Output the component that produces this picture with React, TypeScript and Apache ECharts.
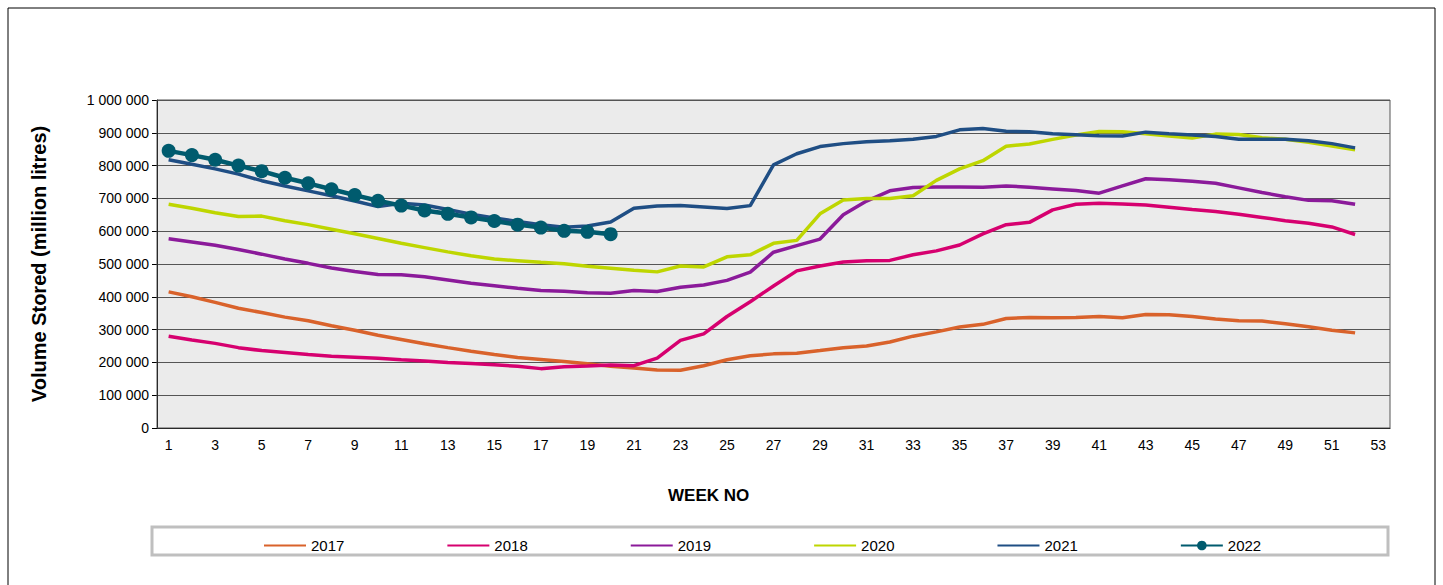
import { useEffect, useRef } from "react";
import * as echarts from "echarts";

const weeks = Array.from({ length: 53 }, (_, i) => String(i + 1));

const y2017 = [415, 400, 383, 365, 352, 338, 327, 312, 298, 283, 270, 257, 245, 234, 224, 215, 209, 203, 196, 188, 183, 177, 176, 190, 208, 220, 226, 228, 236, 245, 250, 262, 280, 293, 308, 316, 334, 337, 336, 337, 340, 336, 346, 345, 340, 332, 327, 326, 318, 309, 298, 290];
const y2018 = [280, 268, 258, 245, 236, 230, 224, 219, 216, 213, 208, 204, 200, 197, 193, 188, 181, 187, 189, 192, 190, 213, 267, 287, 340, 385, 433, 479, 494, 506, 510, 511, 528, 540, 558, 592, 620, 627, 665, 682, 685, 683, 680, 673, 666, 660, 652, 642, 632, 624, 613, 590];
const y2019 = [577, 567, 557, 544, 530, 515, 502, 488, 477, 468, 467, 461, 451, 441, 434, 426, 419, 417, 412, 411, 419, 416, 429, 436, 450, 475, 536, 556, 576, 650, 692, 723, 733, 735, 735, 734, 738, 734, 729, 724, 716, 738, 760, 757, 752, 746, 732, 718, 705, 694, 693, 682];
const y2020 = [682, 670, 656, 645, 646, 632, 620, 606, 592, 578, 563, 550, 537, 525, 515, 510, 505, 501, 493, 487, 481, 476, 494, 491, 522, 528, 563, 572, 653, 695, 700, 700, 708, 755, 790, 815, 859, 866, 880, 893, 904, 903, 897, 890, 884, 896, 895, 885, 880, 871, 860, 848];
const y2021 = [818, 804, 790, 774, 754, 738, 723, 708, 692, 675, 685, 680, 666, 652, 640, 630, 620, 612, 616, 628, 670, 677, 678, 674, 669, 678, 802, 836, 858, 867, 873, 876, 880, 889, 909, 913, 905, 903, 897, 894, 891, 890, 902, 897, 893, 889, 880, 880, 880, 876, 867, 854];
const y2022 = [845, 832, 818, 800, 783, 763, 746, 728, 710, 693, 678, 663, 653, 642, 631, 620, 611, 601, 598, 591];

const seriesDefs = [
    { name: "2017", data: y2017, color: "#D9622B" },
    { name: "2018", data: y2018, color: "#D6006F" },
    { name: "2019", data: y2019, color: "#8B1A9A" },
    { name: "2020", data: y2020, color: "#BED600" },
    { name: "2021", data: y2021, color: "#1F4E84" },
    { name: "2022", data: y2022, color: "#005B6E" }
];

const fmt = (v: number) =>
    String(v).replace(/\B(?=(\d{3})+(?!\d))/g, " ");

function App() {

    const chartRef = useRef<HTMLDivElement>(null);

    useEffect(() => {

        if (!chartRef.current)
            return;

        document.body.style.margin = "0";

        const chart = echarts.init(chartRef.current, null, { renderer: "svg" });

        const font = "Liberation Sans, Arial, sans-serif";

        chart.setOption({
            animation: false,
            backgroundColor: "#fff",
            textStyle: { fontFamily: font },
            graphic: [
                {
                    type: "rect",
                    shape: { x: 8, y: 8, width: 1427, height: 580 },
                    style: { fill: "none", stroke: "#000", lineWidth: 1 }
                },
                {
                    type: "rect",
                    shape: { x: 152, y: 527, width: 1236, height: 28 },
                    style: { fill: "#fff", stroke: "#BFBFBF", lineWidth: 3 }
                },
                {
                    type: "rect",
                    z: 10,
                    shape: { x: 157, y: 100, width: 1233, height: 328 },
                    style: { fill: "none", stroke: "#555", lineWidth: 1 }
                },
                {
                    type: "text",
                    left: 668,
                    top: 487,
                    style: { text: "WEEK NO", font: "bold 17px Liberation Sans, Arial, sans-serif", fill: "#000" }
                }
            ],
            grid: { left: 157, top: 100, width: 1233, height: 328 },
            legend: {
                top: 533,
                left: 258,
                itemWidth: 42,
                itemHeight: 12,
                itemGap: 102,
                textStyle: { fontSize: 15, color: "#000", fontFamily: font },
                data: seriesDefs.map(s => s.name === "2022"
                    ? { name: s.name }
                    : { name: s.name, itemStyle: { opacity: 0 } })
            },
            xAxis: {
                type: "category",
                data: weeks,
                boundaryGap: true,
                axisLine: { lineStyle: { color: "#000" } },
                axisTick: { interval: 0, lineStyle: { color: "#000" } },
                axisLabel: { interval: 1, color: "#000", fontSize: 14, margin: 10 }
            },
            yAxis: {
                type: "value",
                min: 0,
                max: 1000,
                interval: 100,
                name: "Volume Stored (million litres)",
                nameLocation: "middle",
                nameGap: 108,
                nameTextStyle: { fontSize: 20, fontWeight: "bold", color: "#000" },
                axisLine: { show: true, lineStyle: { color: "#000" } },
                axisTick: { show: true, lineStyle: { color: "#000" } },
                axisLabel: { color: "#000", fontSize: 14, formatter: (v: number) => fmt(v * 1000) },
                splitLine: { lineStyle: { color: "#555", width: 1 } },
                splitArea: { show: true, areaStyle: { color: ["#EBEBEB", "#EBEBEB"] } }
            },
            series: seriesDefs.map(s => ({
                name: s.name,
                type: "line",
                data: s.data,
                itemStyle: { color: s.color },
                lineStyle: { color: s.color, width: s.name === "2022" ? 4.5 : 3.5 },
                symbol: s.name === "2022" ? "circle" : "none",
                symbolSize: 14,
                showSymbol: s.name === "2022",
                z: s.name === "2022" ? 5 : 2
            }))
        });

        return () => {
            chart.dispose();
        };

    }, []);

    return (
        <div
            ref={chartRef}
            style={{ width: "1443px", height: "585px" }}
        />
    );
}

export default App;
